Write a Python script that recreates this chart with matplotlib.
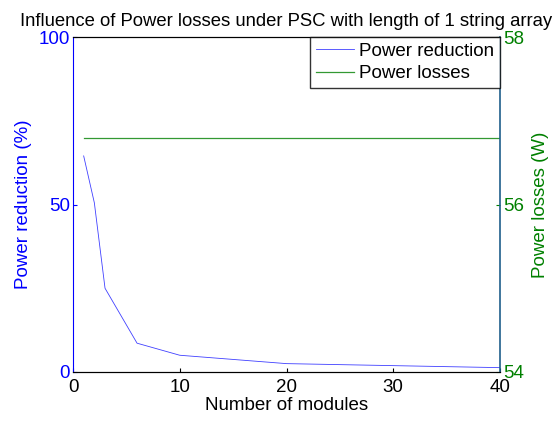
import matplotlib
matplotlib.use('Agg')
import matplotlib.pyplot as plt

plt.rcParams['font.family'] = 'Liberation Sans'

# data
modules = [1, 2, 3, 6, 10, 20, 40]
power_reduction = [64.5, 50.5, 25, 8.6, 5.0, 2.5, 1.3]
loss_modules = [1, 40]
power_losses = [56.8, 56.8]

fig = plt.figure(figsize=(5.54, 4.22), dpi=100)
ax = fig.add_axes([73/554, 1 - 372/422, 427/554, 335/422])
ax2 = ax.twinx()

l1, = ax.plot(modules, power_reduction, color='#0000ff', lw=0.6, alpha=0.75)
l2, = ax2.plot(loss_modules, power_losses, color='#008000', lw=0.9, alpha=0.8)

ax.set_xlim(0, 40)
ax.set_ylim(0, 100)
ax2.set_ylim(54, 58)
ax.set_xticks([0, 10, 20, 30, 40])
ax.set_yticks([0, 50, 100])
ax2.set_yticks([54, 56, 58])

fs = 13.5
ax.tick_params(axis='x', direction='in', length=3, labelsize=fs, colors='black', pad=5)
ax.tick_params(axis='y', direction='in', length=3, labelsize=fs, colors='blue', pad=2)
ax2.tick_params(axis='y', direction='in', length=3, labelsize=fs, colors='green', pad=2)

ax.spines['left'].set_color('blue')
ax2.spines['left'].set_visible(False)
ax2.spines['right'].set_color('#1f5f8b')
ax2.spines['right'].set_linewidth(1.2)
ax.spines['right'].set_visible(False)

ax.set_xlabel('Number of modules', fontsize=fs, labelpad=1)
ax.set_ylabel('Power reduction (%)', fontsize=fs, color='blue', labelpad=5)
ax2.set_ylabel('Power losses (W)', fontsize=fs, color='green', labelpad=6)
ax.set_title('Influence of Power losses under PSC with length of 1 string array',
             fontsize=13.3, pad=8)

leg = ax2.legend([l1, l2], ['Power reduction', 'Power losses'], loc='upper right',
                 fontsize=fs, frameon=True, fancybox=False, borderaxespad=0,
                 handlelength=2.0, borderpad=0.3, labelspacing=0.3, handletextpad=0.3)
leg.get_frame().set_edgecolor('black')
leg.get_frame().set_linewidth(1.0)

fig.savefig('out.png', dpi=100)
